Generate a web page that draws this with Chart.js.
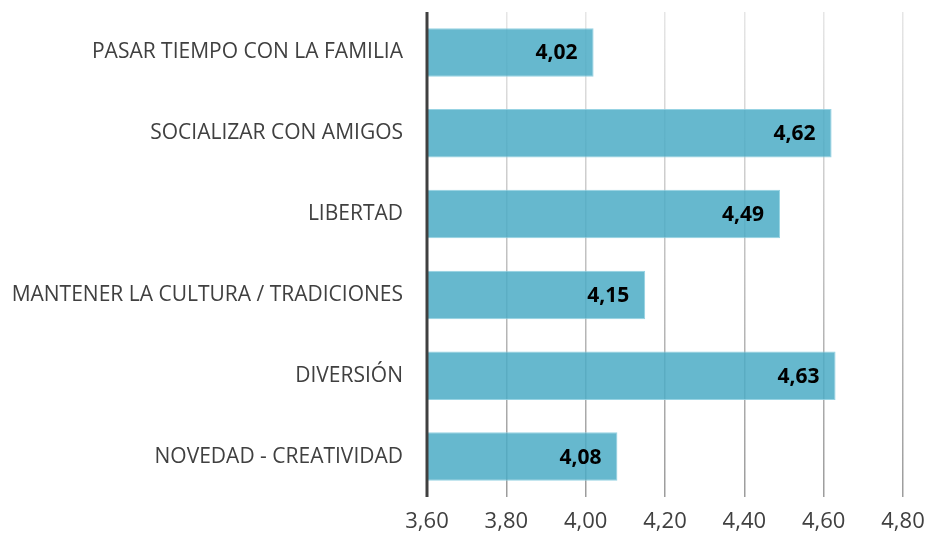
<!DOCTYPE html>
<html><head><meta charset="utf-8">
<script src="https://cdn.jsdelivr.net/npm/chart.js@4.4.1/dist/chart.umd.min.js"></script>
<style>html,body{margin:0;padding:0;background:#fff}#wrap{width:929px;height:541px}</style>
</head><body><div id="wrap"><canvas id="c"></canvas></div>
<script>
const categories = ["PASAR TIEMPO CON LA FAMILIA","SOCIALIZAR CON AMIGOS","LIBERTAD","MANTENER LA CULTURA / TRADICIONES","DIVERSIÓN","NOVEDAD - CREATIVIDAD"];
const values = [4.02, 4.62, 4.49, 4.15, 4.63, 4.08];
const xMin = 3.6, xMax = 4.8, xStep = 0.2;
const fmt = v => v.toFixed(2).replace('.', ',');

const valueLabels = {
  id: 'valueLabels',
  afterDatasetsDraw(chart) {
    const ctx = chart.ctx;
    const meta = chart.getDatasetMeta(0);
    ctx.save();
    ctx.font = 'bold 21px "Open Sans", sans-serif';
    ctx.fillStyle = '#000';
    ctx.textAlign = 'right';
    ctx.textBaseline = 'middle';
    meta.data.forEach((bar, i) => {
      ctx.fillText(fmt(values[i]), bar.x - 16, bar.y + 1);
    });
    ctx.restore();
  }
};
const axisLine = {
  id: 'axisLine',
  afterDatasetsDraw(chart) {
    const ctx = chart.ctx, a = chart.chartArea;
    const x = chart.scales.x.getPixelForValue(xMin);
    ctx.save();
    ctx.strokeStyle = '#404040';
    ctx.lineWidth = 3;
    ctx.beginPath(); ctx.moveTo(x, a.top); ctx.lineTo(x, a.bottom); ctx.stroke();
    ctx.restore();
  }
};
function gridColor(c) {
  const ch = c.chart, a = ch.chartArea;
  if (!a) return '#c8c8c8';
  const g = ch.ctx.createLinearGradient(0, a.top, 0, a.bottom);
  g.addColorStop(0, '#e6e6e6');
  g.addColorStop(1, '#9c9c9c');
  return g;
}

new Chart(document.getElementById('c'), {
  type: 'bar',
  data: { labels: categories, datasets: [{ data: values, backgroundColor: 'rgba(75,172,198,0.85)', borderColor: 'rgba(140,206,224,0.9)', borderWidth: 1, borderSkipped: false, barPercentage: 0.6, categoryPercentage: 1 }] },
  options: {
    indexAxis: 'y', responsive: true, maintainAspectRatio: false, animation: false,
    layout: { padding: { top: 12, right: 26, left: 0, bottom: 0 } },
    plugins: { legend: { display: false }, tooltip: { enabled: false } },
    scales: {
      x: { min: xMin, max: xMax,
        ticks: { stepSize: xStep, color: '#404040', font: { family: '"Open Sans", sans-serif', size: 22 }, padding: 12, callback: v => fmt(v) },
        afterFit: s => { s.height = 44; s.paddingLeft = 0; s.paddingRight = 0; },
        grid: { color: gridColor, lineWidth: 1.5, drawTicks: false },
        border: { display: false } },
      y: { ticks: { color: '#404040', font: { family: '"Open Sans", sans-serif', size: 21 }, padding: 24 },
        afterFit: s => { s.width = 427; s.paddingTop = 0; s.paddingBottom = 0; },
        grid: { display: false, drawTicks: false, tickLength: 0 }, border: { display: false } }
    }
  },
  plugins: [valueLabels, axisLine]
});
</script></body></html>
